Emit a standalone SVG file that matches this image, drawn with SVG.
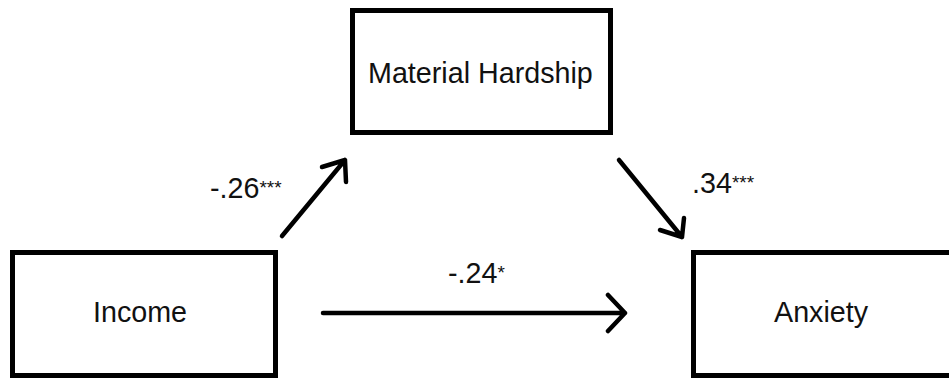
<svg xmlns="http://www.w3.org/2000/svg" width="949" height="380" viewBox="0 0 949 380">
<style>
.box{fill:#fff;stroke:#000;stroke-width:5}
.t{font-family:"Liberation Sans",Arial,sans-serif;font-size:28.7px;fill:#111}
.s{font-size:19px}
.c{fill:none;stroke:#000;stroke-width:4.5;stroke-linecap:round;stroke-linejoin:round}
</style>
<rect width="949" height="380" fill="#fff"/>
<g id="material-hardship">
<rect class="box" x="352.5" y="10.5" width="258" height="122"/>
<text class="t" x="368" y="83">Material Hardship</text>
</g>
<g id="income">
<rect class="box" x="12.5" y="252.5" width="263" height="123"/>
<text class="t" x="93" y="322">Income</text>
</g>
<g id="anxiety">
<rect class="box" x="693.5" y="252.5" width="270" height="123"/>
<text class="t" x="774" y="322">Anxiety</text>
</g>
<g id="connectors">
<path class="c" d="M282,236 L345,160 M322,167 L345,160 L346,182"/>
<path class="c" d="M619,160 L682,237 M660,230 L682,237 L684,218"/>
<path class="c" d="M323,313 L625,313 M608,295 L625,313 L608,331"/>
</g>
<g id="labels">
<text class="t" x="210" y="198">-.26<tspan class="s" dy="-4">***</tspan></text>
<text class="t" x="692" y="193">.34<tspan class="s" dy="-4">***</tspan></text>
<text class="t" x="448" y="283">-.24<tspan class="s" dy="-4">*</tspan></text>
</g>
</svg>
